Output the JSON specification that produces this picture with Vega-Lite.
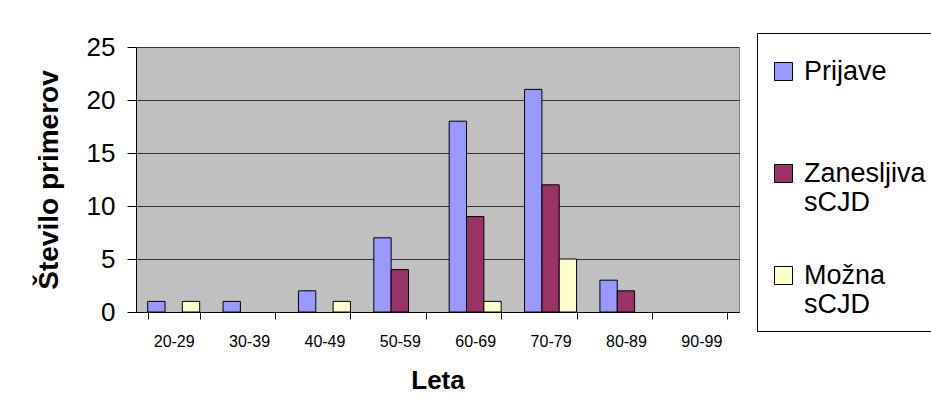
{
  "$schema": "https://vega.github.io/schema/vega-lite/v6.json",
  "autosize": {"type": "none"},
  "width": 603,
  "height": 265,
  "padding": {"left": 136, "top": 47, "right": 192, "bottom": 100},
  "background": "white",
  "config": {
    "font": "Liberation Sans",
    "view": {"fill": "#C0C0C0", "stroke": "#808080", "strokeWidth": 1}
  },
  "data": {
    "values": [
      {"Leta": "20-29", "Skupina": "Prijave", "Stevilo": 1},
      {"Leta": "20-29", "Skupina": "Zanesljiva sCJD", "Stevilo": 0},
      {"Leta": "20-29", "Skupina": "Možna sCJD", "Stevilo": 1},
      {"Leta": "30-39", "Skupina": "Prijave", "Stevilo": 1},
      {"Leta": "30-39", "Skupina": "Zanesljiva sCJD", "Stevilo": 0},
      {"Leta": "30-39", "Skupina": "Možna sCJD", "Stevilo": 0},
      {"Leta": "40-49", "Skupina": "Prijave", "Stevilo": 2},
      {"Leta": "40-49", "Skupina": "Zanesljiva sCJD", "Stevilo": 0},
      {"Leta": "40-49", "Skupina": "Možna sCJD", "Stevilo": 1},
      {"Leta": "50-59", "Skupina": "Prijave", "Stevilo": 7},
      {"Leta": "50-59", "Skupina": "Zanesljiva sCJD", "Stevilo": 4},
      {"Leta": "50-59", "Skupina": "Možna sCJD", "Stevilo": 0},
      {"Leta": "60-69", "Skupina": "Prijave", "Stevilo": 18},
      {"Leta": "60-69", "Skupina": "Zanesljiva sCJD", "Stevilo": 9},
      {"Leta": "60-69", "Skupina": "Možna sCJD", "Stevilo": 1},
      {"Leta": "70-79", "Skupina": "Prijave", "Stevilo": 21},
      {"Leta": "70-79", "Skupina": "Zanesljiva sCJD", "Stevilo": 12},
      {"Leta": "70-79", "Skupina": "Možna sCJD", "Stevilo": 5},
      {"Leta": "80-89", "Skupina": "Prijave", "Stevilo": 3},
      {"Leta": "80-89", "Skupina": "Zanesljiva sCJD", "Stevilo": 2},
      {"Leta": "80-89", "Skupina": "Možna sCJD", "Stevilo": 0},
      {"Leta": "90-99", "Skupina": "Prijave", "Stevilo": 0},
      {"Leta": "90-99", "Skupina": "Zanesljiva sCJD", "Stevilo": 0},
      {"Leta": "90-99", "Skupina": "Možna sCJD", "Stevilo": 0}
    ]
  },
  "mark": {"type": "bar", "stroke": "black", "strokeWidth": 1},
  "encoding": {
    "x": {
      "field": "Leta",
      "type": "nominal",
      "sort": null,
      "scale": {"paddingInner": 0.31, "paddingOuter": 0.155},
      "axis": {
        "title": "Leta",
        "labelAngle": 0,
        "labelFontSize": 16,
        "labelColor": "black",
        "labelPadding": 14,
        "tickBand": "extent",
        "tickSize": 7,
        "tickColor": "black",
        "domainColor": "black",
        "titleFontSize": 26,
        "titleFontWeight": "bold",
        "titleColor": "black",
        "titlePadding": 18
      }
    },
    "xOffset": {
      "field": "Skupina",
      "sort": ["Prijave", "Zanesljiva sCJD", "Možna sCJD"],
      "scale": {"paddingInner": 0, "paddingOuter": 0}
    },
    "y": {
      "field": "Stevilo",
      "type": "quantitative",
      "scale": {"domain": [0, 25], "nice": false},
      "axis": {
        "title": "Število primerov",
        "values": [0, 5, 10, 15, 20, 25],
        "grid": true,
        "gridColor": "#333333",
        "gridOpacity": 1,
        "domainColor": "black",
        "tickColor": "black",
        "tickSize": 9,
        "labelFontSize": 26,
        "labelColor": "black",
        "labelPadding": 12,
        "titleFontSize": 28,
        "titleFontWeight": "bold",
        "titleColor": "black",
        "titlePadding": 23
      }
    },
    "strokeOpacity": {
      "condition": {"test": "datum.Stevilo == 0", "value": 0},
      "value": 1
    },
    "color": {
      "field": "Skupina",
      "type": "nominal",
      "sort": ["Prijave", "Zanesljiva sCJD", "Možna sCJD"],
      "scale": {
        "domain": ["Prijave", "Zanesljiva sCJD", "Možna sCJD"],
        "range": ["#9999FF", "#993366", "#FFFFCC"]
      },
      "legend": {
        "orient": "none",
        "legendX": 621,
        "legendY": -14,
        "title": " ",
        "titleFontSize": 8,
        "titlePadding": 4,
        "fillColor": "white",
        "strokeColor": "black",
        "padding": 13,
        "labelFontSize": 27,
        "labelColor": "black",
        "labelLimit": 400,
        "labelOffset": 7,
        "symbolType": "square",
        "symbolSize": 324,
        "symbolStrokeColor": "black",
        "symbolStrokeWidth": 1,
        "symbolOpacity": 1,
        "rowPadding": 45,
        "labelExpr": "datum.label == 'Prijave' ? ['Prijave', ''] : split(datum.label, ' ')"
      }
    }
  }
}
